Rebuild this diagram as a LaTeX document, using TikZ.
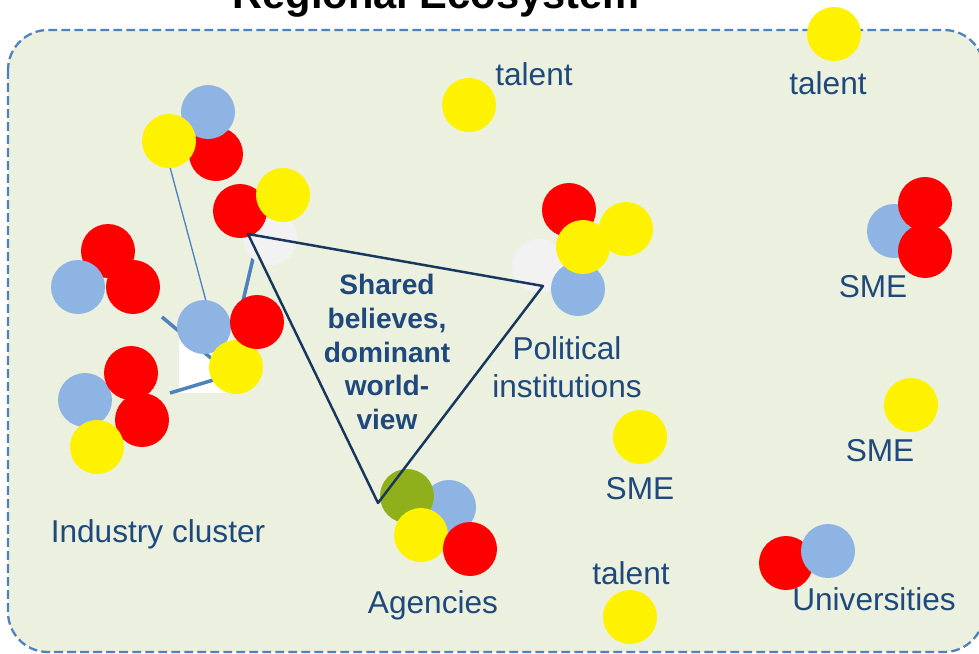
\documentclass[tikz,border=0pt]{standalone}
\usepackage{fontspec}
\setmainfont{Liberation Sans}
\definecolor{ecofill}{HTML}{EBF1DE}
\definecolor{ecoline}{HTML}{4F81BD}
\definecolor{ecotext}{HTML}{1F497D}
\definecolor{ecotri}{HTML}{17375E}
\definecolor{ecoblue}{HTML}{8EB4E3}
\definecolor{ecogrey}{HTML}{F2F2F2}
\definecolor{ecogreen}{HTML}{8FB01B}
\begin{document}
\begin{tikzpicture}[x=0.02cm,y=-0.02cm,line join=round,font=\fontsize{18}{21.6}\selectfont,
	ball/.style={circle,inner sep=0pt,minimum size=1.08cm},
	lbl/.style={text=ecotext,anchor=base,inner sep=0pt}]
			\useasboundingbox (0,0) rectangle (979,653);
			\draw[ecoline,fill=ecofill,line width=1.3pt,dash pattern=on 5pt off 2.4pt,rounded corners=0.8cm]
			(8,30) rectangle (984,652);
			\node[font=\fontsize{23.7}{28}\selectfont\bfseries,anchor=base,inner sep=0pt] (title) at (436,8) {Regional Ecosystem};
			\path 
			(164,145) coordinate (l1) (213,327) coordinate (l2)
			(162,317) coordinate (s1) (218,364) coordinate (s2)
			(255,250) coordinate (s3) (239,318) coordinate (s4)
			(170,393) coordinate (s5) (230,375) coordinate (s6)
			(248,234) coordinate (tA)
			(543,286) coordinate (tB)
			(378,503) coordinate (tC)
			;
			\fill[white] (179,335) rectangle (230,393);
			\draw[ecoline,line width=0.75pt] (l1)--(l2);
			\foreach \a/\b in {s1/s2,s3/s4,s5/s6}
			\draw[ecoline,line width=2pt] (\a)--(\b);
			\foreach \n/\c/\x/\y in {icR1/red/216/154,icB1/ecoblue/208/112,icY1/yellow/169/141,
				icG/ecogrey/270/238,icR2/red/240/211,icY2/yellow/283/195,
				icR3/red/108/251,icB2/ecoblue/78/287,icR4/red/133/287,
				icB3/ecoblue/85/400,icR5/red/131/373,icR6/red/142/420,icY3/yellow/97/447,
				icB4/ecoblue/204/327,icY4/yellow/236/367,icR7/red/257/322,
				piG/ecogrey/539/266,piR/red/569/210,piY1/yellow/626/229,piB/ecoblue/578/289,piY2/yellow/583/247,
				agB/ecoblue/449/507,agG/ecogreen/407/496,agY/yellow/421/535,agR/red/470/549,
				tY1/yellow/469/105,tY2/yellow/834/34,tY3/yellow/630/617,
				smB/ecoblue/894/231,smR1/red/925/204,smR2/red/925/251,smY1/yellow/911/405,smY2/yellow/640/437,
				unR/red/786/563,unB/ecoblue/828/551}
			\node[ball,fill=\c] (\n) at (\x,\y) {};
			\draw[ecotri,line width=1.4pt] (tA)--(tB)--(tC)--cycle;
			\node[font=\fontsize{16}{19.3}\selectfont\bfseries,text=ecotext,align=center,inner sep=0pt] (shared) at (387,352)
			{Shared\\believes,\\dominant\\world-\\view};
			\foreach \n/\x/\y/\t in {lT1/534/85/talent,lT2/828/94/talent,lT3/631/584/talent,
				lS1/873/297/SME,lS2/880/461/SME,lS3/640/499/SME,
				lU/874/610/Universities,lA/433/613/Agencies,lI/158/542/Industry cluster}
			\node[lbl] (\n) at (\x,\y) {\t};
			\node[text=ecotext,align=center,inner sep=0pt] (lP) at (567,367) {Political\\institutions};
	\end{tikzpicture}
\end{document}
